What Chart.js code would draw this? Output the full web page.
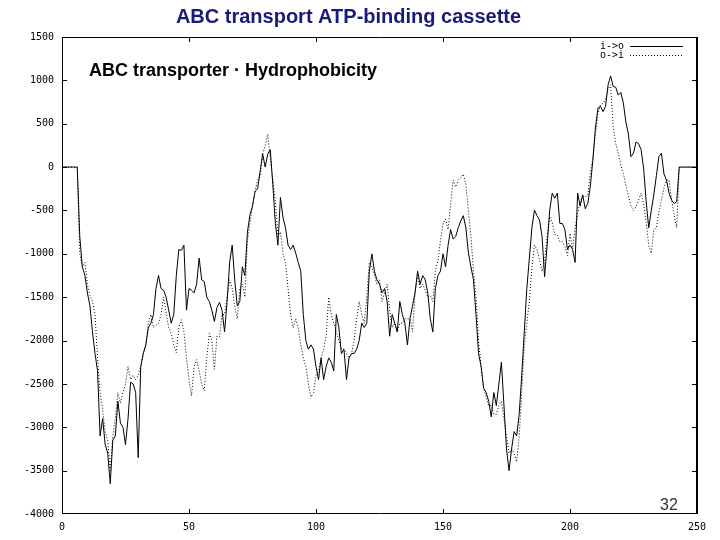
<!DOCTYPE html>
<html><head><meta charset="utf-8">
<script src="https://cdn.jsdelivr.net/npm/chart.js@4/dist/chart.umd.min.js"></script>
<style>html,body{margin:0;padding:0;background:#fff}canvas{display:block}</style>
</head><body>
<canvas id="c" width="720" height="540"></canvas>
<script>
const chartTitle = 'ABC transport ATP-binding cassette';
const panelLabel = 'ABC transporter · Hydrophobicity';
const pageNumber = '32';
const seriesNames = ['i->o', 'o->i'];
const residues = Array.from({length: 251}, (_, i) => i);
const xTicks = [0, 50, 100, 150, 200, 250];
const yTicks = [1500, 1000, 500, 0, -500, -1000, -1500, -2000, -2500, -3000, -3500, -4000];

const insideOut = [
  0,0,0,0,0,0,0,-800,-1150,-1250,
  -1450,-1600,-1900,-2150,-2350,-3100,-2900,-3200,-3300,-3650,
  -3150,-3100,-2700,-2950,-3000,-3200,-2900,-2480,-2500,-2600,
  -3350,-2300,-2150,-2050,-1850,-1800,-1700,-1400,-1250,-1400,
  -1420,-1500,-1650,-1800,-1700,-1250,-950,-960,-900,-1650,
  -1400,-1420,-1450,-1350,-1050,-1300,-1320,-1500,-1550,-1650,
  -1780,-1620,-1560,-1650,-1900,-1550,-1100,-900,-1300,-1600,
  -1550,-1150,-1250,-750,-550,-450,-280,-250,-50,150,
  0,150,200,-200,-650,-900,-350,-580,-700,-900,
  -950,-900,-990,-1100,-1200,-1700,-2000,-2100,-2050,-2100,
  -2300,-2450,-2200,-2450,-2300,-2200,-2250,-2350,-1700,-1850,
  -2150,-2100,-2450,-2200,-2150,-2150,-2100,-2000,-1800,-1850,
  -1800,-1200,-1000,-1200,-1300,-1350,-1450,-1400,-1550,-1950,
  -1700,-1800,-1900,-1550,-1700,-1800,-2050,-1750,-1600,-1450,
  -1200,-1350,-1250,-1300,-1450,-1750,-1900,-1400,-1250,-1200,
  -1000,-1150,-900,-720,-830,-800,-700,-620,-560,-700,
  -990,-1150,-1300,-1700,-2150,-2300,-2550,-2600,-2700,-2880,
  -2600,-2750,-2500,-2250,-2750,-3250,-3500,-3250,-3050,-3100,
  -2850,-2400,-1900,-1400,-1050,-700,-495,-560,-611,-800,
  -1264,-900,-500,-300,-360,-300,-650,-650,-720,-950,
  -900,-950,-1100,-300,-450,-320,-480,-420,-220,80,
  450,680,700,640,700,950,1050,930,920,830,
  860,740,520,380,120,160,290,270,200,-20,
  -400,-700,-500,-320,-100,120,160,-80,-150,-300,
  -380,-420,-400,0,0,0,0,0,0,0,
  0
];

const outsideIn = [
  0,0,0,0,0,0,0,-1000,-1150,-1100,
  -1350,-1480,-1550,-1700,-2200,-2600,-2800,-3050,-3150,-3500,
  -3100,-2900,-2600,-2720,-2600,-2500,-2300,-2450,-2400,-2450,
  -2400,-2300,-2150,-2050,-1800,-1700,-1850,-1820,-1800,-1700,
  -1500,-1680,-1850,-1920,-2050,-2140,-1850,-1760,-1900,-2200,
  -2450,-2640,-2300,-2220,-2350,-2500,-2580,-2200,-1920,-2000,
  -2330,-1950,-1960,-1700,-1700,-1500,-1300,-1400,-1600,-1750,
  -1400,-1350,-1500,-850,-650,-450,-280,-150,-100,150,
  250,380,100,-150,-400,-800,-750,-1000,-1100,-1400,
  -1700,-1850,-1750,-1850,-2050,-2200,-2300,-2500,-2650,-2600,
  -2400,-2350,-2200,-2100,-1950,-1500,-1700,-1800,-1900,-2000,
  -2100,-2100,-2150,-2200,-2150,-2000,-1750,-1550,-1700,-1800,
  -1500,-1100,-1150,-1250,-1350,-1300,-1550,-1450,-1350,-1650,
  -1850,-1800,-1900,-1800,-1800,-1750,-1750,-1750,-1900,-1450,
  -1250,-1400,-1350,-1420,-1500,-1480,-1550,-1200,-1080,-850,
  -650,-600,-720,-420,-150,-230,-150,-120,-80,-200,
  -500,-800,-1200,-1500,-2000,-2300,-2550,-2650,-2750,-2750,
  -2850,-2850,-2750,-2700,-2900,-3100,-3300,-3250,-3300,-3400,
  -3100,-2600,-2050,-1800,-1550,-1150,-900,-950,-1072,-1200,
  -1072,-800,-572,-640,-780,-780,-860,-860,-918,-1020,
  -764,-950,-700,-534,-400,-342,-340,-330,-60,100,
  380,619,720,734,780,900,950,465,273,158,
  20,-73,-210,-330,-450,-500,-457,-380,-303,-430,
  -640,-900,-995,-720,-700,-520,-380,-240,-150,-150,
  -380,-550,-700,0,0,0,0,0,0,0,
  0
];

const frameAndNotes = {
  id: 'frameAndNotes',
  afterDraw(chart) {
    const {ctx, chartArea: a, scales: {x, y}} = chart;
    ctx.save();
    ctx.strokeStyle = '#000';
    ctx.lineWidth = 1;
    ctx.setLineDash([]);
    // frame
    ctx.beginPath();
    ctx.moveTo(a.left + 0.5, a.top + 0.5);
    ctx.lineTo(a.right, a.top + 0.5);
    ctx.moveTo(a.left + 0.5, a.top);
    ctx.lineTo(a.left + 0.5, a.bottom);
    ctx.moveTo(a.left, a.bottom - 0.5);
    ctx.lineTo(a.right, a.bottom - 0.5);
    ctx.stroke();
    ctx.lineWidth = 2;
    ctx.beginPath();
    ctx.moveTo(a.right, a.top);
    ctx.lineTo(a.right, a.bottom);
    ctx.stroke();
    ctx.lineWidth = 1;
    // inward ticks
    const tl = 5;
    ctx.beginPath();
    yTicks.forEach(v => {
      if (v === yTicks[0] || v === yTicks[yTicks.length - 1]) return;
      const py = Math.round(y.getPixelForValue(v)) + 0.5;
      ctx.moveTo(a.left, py); ctx.lineTo(a.left + tl, py);
      ctx.moveTo(a.right, py); ctx.lineTo(a.right - tl, py);
    });
    xTicks.forEach(v => {
      if (v === xTicks[0] || v === xTicks[xTicks.length - 1]) return;
      const px = Math.round(x.getPixelForValue(v)) + 0.5;
      ctx.moveTo(px, a.bottom); ctx.lineTo(px, a.bottom - tl);
      ctx.moveTo(px, a.top); ctx.lineTo(px, a.top + tl);
    });
    ctx.stroke();
    // legend (text, then line sample)
    ctx.font = '10px "DejaVu Sans Mono"';
    ctx.fillStyle = '#000';
    ctx.textAlign = 'right';
    ctx.textBaseline = 'middle';
    chart.data.datasets.forEach((ds, i) => {
      const ly = a.top + 9 + i * 9;
      ctx.fillText(ds.label, a.right - 73, ly);
      ctx.beginPath();
      ctx.setLineDash(ds.borderDash || []);
      ctx.moveTo(a.right - 67, Math.round(ly) + 0.5);
      ctx.lineTo(a.right - 14, Math.round(ly) + 0.5);
      ctx.stroke();
    });
    ctx.setLineDash([]);
    // panel label
    ctx.textAlign = 'left';
    ctx.textBaseline = 'alphabetic';
    ctx.font = 'bold 18px "Liberation Sans", Arial, sans-serif';
    ctx.fillText(panelLabel, 89, 76);
    // page number
    ctx.font = '16px "Liberation Sans", Arial, sans-serif';
    ctx.fillStyle = '#333';
    ctx.fillText(pageNumber, 660, 510);
    ctx.restore();
  }
};

Chart.defaults.font.family = '"Liberation Sans", Arial, sans-serif';

new Chart(document.getElementById('c'), {
  type: 'line',
  data: {
    labels: residues,
    datasets: [
      { label: seriesNames[0], data: insideOut, borderColor: '#000', borderWidth: 1,
        pointRadius: 0, tension: 0, fill: false },
      { label: seriesNames[1], data: outsideIn, borderColor: '#000', borderWidth: 1,
        borderDash: [1, 2], pointRadius: 0, tension: 0, fill: false }
    ]
  },
  options: {
    responsive: false,
    animation: false,
    devicePixelRatio: 1,
    layout: { padding: { left: 0, right: 23, top: 0, bottom: 0 } },
    plugins: {
      legend: { display: false },
      tooltip: { enabled: false },
      title: {
        display: true,
        text: chartTitle,
        color: '#1a1a78',
        font: { family: '"Liberation Sans", Arial, sans-serif', size: 20, weight: 'bold', lineHeight: 1.2 },
        padding: { top: 5, bottom: 8 }
      }
    },
    scales: {
      x: {
        type: 'linear', min: 0, max: 250,
        afterBuildTicks: s => { s.ticks = xTicks.map(v => ({ value: v })); },
        afterFit: s => { s.height = 26; },
        grid: { display: false, drawTicks: false },
        border: { display: false },
        ticks: { color: '#000', font: { family: '"DejaVu Sans Mono"', size: 10 }, padding: 7, maxRotation: 0, autoSkip: false,
                 callback: v => String(v) }
      },
      y: {
        type: 'linear', min: -4000, max: 1500,
        afterBuildTicks: s => { s.ticks = yTicks.map(v => ({ value: v })); },
        afterFit: s => { s.width = 62; },
        grid: { display: false, drawTicks: false },
        border: { display: false },
        ticks: { color: '#000', font: { family: '"DejaVu Sans Mono"', size: 10 }, padding: 8, autoSkip: false,
                 callback: v => String(v) }
      }
    }
  },
  plugins: [frameAndNotes]
});
</script>
</body></html>
